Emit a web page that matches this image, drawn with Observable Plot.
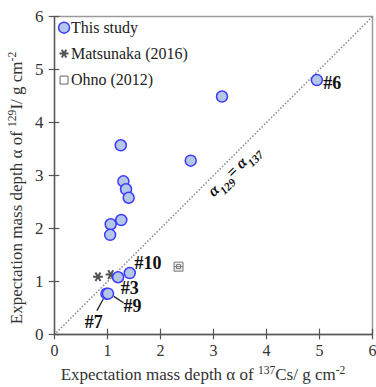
<!DOCTYPE html>
<html><head><meta charset="utf-8">
<script src="https://cdn.jsdelivr.net/npm/d3@7"></script>
<script src="https://cdn.jsdelivr.net/npm/@observablehq/plot@0.6"></script>
<style>
body{margin:0;background:#fff}
</style>
</head><body><div id="chart"></div>
<script>
// This study (sample points)
const studyX = [4.95, 3.16, 2.57, 1.25, 1.30, 1.35, 1.40, 1.26, 1.06, 1.05, 1.20, 1.42, 0.98, 1.01];
const studyY = [4.80, 4.49, 3.28, 3.57, 2.89, 2.74, 2.58, 2.16, 2.08, 1.88, 1.08, 1.16, 0.77, 0.77];
// Matsunaka (2016)
const matsuX = [0.82, 1.06];
const matsuY = [1.09, 1.13];
// Ohno (2012)
const ohnoX = [2.34];
const ohnoY = [1.28];
// ticks
const tickValues = [0, 1, 2, 3, 4, 5, 6];
// sample annotations
const sampleLabels = ["#6", "#10", "#3", "#9", "#7"];
const labelX = [5.07, 1.51, 1.25, 1.30, 0.57];
const labelY = [4.74, 1.34, 0.87, 0.53, 0.23];
// leader lines (#9, #7)
const leadX1 = [1.12, 0.92], leadY1 = [0.72, 0.67];
const leadX2 = [1.30, 0.80], leadY2 = [0.60, 0.45];
// legend
const legendNames = ["This study", "Matsunaka (2016)", "Ohno (2012)"];
const legendSymX = 0.18, legendTextX = 0.31;
const legendY = [5.79, 5.30, 4.80];
// 1:1 line label
const diagLabelX = 3.38, diagLabelY = 3.09;

const study = studyX.map((x, i) => ({x, y: studyY[i]}));
const matsu = matsuX.map((x, i) => ({x, y: matsuY[i]}));
const ohno = ohnoX.map((x, i) => ({x, y: ohnoY[i]}));
const labels = sampleLabels.map((t, i) => ({t, x: labelX[i], y: labelY[i]}));
const leaders = leadX1.map((x1, i) => ({x1, y1: leadY1[i], x2: leadX2[i], y2: leadY2[i]}));

const serif = "Liberation Serif";

const star6 = {draw(ctx, size) {
  const r = Math.sqrt(size / Math.PI);
  for (const a of [0, Math.PI / 3, 2 * Math.PI / 3]) {
    ctx.moveTo(r * Math.cos(a), r * Math.sin(a));
    ctx.lineTo(-r * Math.cos(a), -r * Math.sin(a));
  }
}};
const boxSym = {draw(ctx, size) {
  const r = Math.sqrt(size / Math.PI);
  ctx.rect(-r, -r, 2 * r, 2 * r);
  ctx.moveTo(-r, 0); ctx.lineTo(r, 0);
  ctx.rect(-r * 0.45, -r * 0.45, r * 0.9, r * 0.9);
}};

const blueFill = "#b4c7e7", blueStroke = "#3b3bff";

const plot = Plot.plot({
  width: 376, height: 387,
  marginLeft: 54, marginRight: 4, marginTop: 16, marginBottom: 53,
  style: {fontFamily: serif, background: "#fff"},
  x: {domain: [0, 6]},
  y: {domain: [0, 6]},
  marks: [
    Plot.frame({stroke: "#9a9a9a", strokeWidth: 1.5}),
    Plot.line([[0, 0], [6, 6]], {stroke: "#888", strokeWidth: 1.6, strokeDasharray: "0.1 3.2", strokeLinecap: "round"}),
    Plot.ruleX([0], {stroke: "#555", strokeWidth: 1.3}),
    Plot.ruleY([0], {stroke: "#555", strokeWidth: 1.3}),
    Plot.ruleY(tickValues, {y: d => d, x1: -0.1, x2: 0.1, stroke: "#555", strokeWidth: 1.2}),
    Plot.ruleX(tickValues, {x: d => d, y1: -0.1, y2: 0.1, stroke: "#555", strokeWidth: 1.2}),
    Plot.axisX({ticks: tickValues, tickFormat: d => String(d), tickSize: 0, tickPadding: 10, fontSize: 16, fill: "#333", label: null}),
    Plot.axisY({ticks: tickValues, tickFormat: d => String(d), tickSize: 0, tickPadding: 11, fontSize: 17, fill: "#333", label: null}),
    Plot.link(leaders, {x1: "x1", y1: "y1", x2: "x2", y2: "y2", stroke: "#222", strokeWidth: 1.3}),
    Plot.dot(matsu, {x: "x", y: "y", symbol: star6, r: 5, stroke: "#555", strokeWidth: 2, fill: "none"}),
    Plot.dot(ohno, {x: "x", y: "y", symbol: boxSym, r: 4.5, stroke: "#777", strokeWidth: 1, fill: "#eee"}),
    Plot.dot(study, {x: "x", y: "y", r: 5.5, fill: blueFill, stroke: blueStroke, strokeWidth: 1.5}),
    Plot.text(labels, {x: "x", y: "y", text: "t", textAnchor: "start", fontSize: 18, fontWeight: "bold", fill: "#111"}),
    // legend
    Plot.dot([legendY[0]], {x: legendSymX, y: d => d, r: 5.5, fill: blueFill, stroke: blueStroke, strokeWidth: 1.5}),
    Plot.dot([legendY[1]], {x: legendSymX, y: d => d, symbol: star6, r: 4.5, stroke: "#555", strokeWidth: 2, fill: "none"}),
    Plot.dot([legendY[2]], {x: legendSymX, y: d => d, symbol: "square", r: 4.5, stroke: "#666", strokeWidth: 1, fill: "none"}),
    Plot.text(legendNames, {x: legendTextX, y: (d, i) => legendY[i], text: d => d, textAnchor: "start", fontSize: 16, fill: "#222"})
  ]
});

const svg = d3.select(plot);
const sx = plot.scale("x"), sy = plot.scale("y");

function richText(sel, parts, baseSize) {
  for (const p of parts) {
    const t = sel.append("tspan").text(p.t);
    if (p.sup) t.attr("font-size", baseSize * 0.68).attr("baseline-shift", "super");
    if (p.sub) t.attr("font-size", baseSize * 0.72).attr("baseline-shift", "sub");
  }
}
// x axis title
const xt = svg.append("text").attr("x", 203).attr("y", 380).attr("text-anchor", "middle")
  .attr("font-size", 17).attr("fill", "#333");
richText(xt, [{t: "Expectation mass depth α of "}, {t: "137", sup: true}, {t: "Cs/ g cm"}, {t: "-2", sup: true}], 17);
// y axis title
const yt = svg.append("text").attr("transform", "translate(22,188) rotate(-90)").attr("text-anchor", "middle")
  .attr("font-size", 17).attr("fill", "#333");
richText(yt, [{t: "Expectation mass depth α of "}, {t: "129", sup: true}, {t: "I/ g cm"}, {t: "-2", sup: true}], 17);
// 1:1 line label
const dl = svg.append("text")
  .attr("transform", `translate(${sx.apply(diagLabelX)},${sy.apply(diagLabelY)}) rotate(-45)`)
  .attr("text-anchor", "middle").attr("dy", "0.35em")
  .attr("font-size", 16).attr("font-weight", "bold").attr("font-style", "italic").attr("fill", "#111");
richText(dl, [{t: "α"}, {t: "129", sub: true}, {t: "= α"}, {t: "137", sub: true}], 16);

svg.selectAll("text").style("font-family", serif);

document.getElementById("chart").appendChild(plot);
</script>
</body></html>
